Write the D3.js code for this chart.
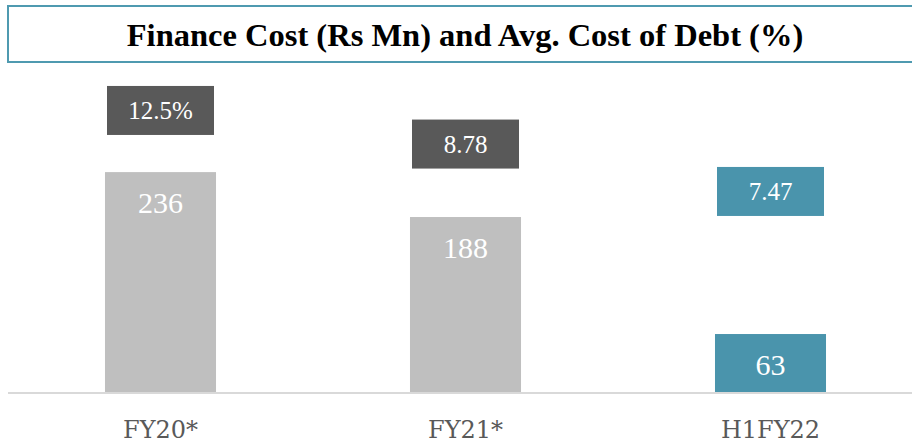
<!DOCTYPE html>
<html>
<head>
<meta charset="utf-8">
<script src="https://cdn.jsdelivr.net/npm/d3@7"></script>
<style>
  body { margin: 0; background: #fff; }
  svg { display: block; font-family: "Liberation Serif", "DejaVu Serif", serif; }
</style>
</head>
<body>
<div id="chart"></div>
<script>
// 데이터
const categories = ["FY20*", "FY21*", "H1FY22"];
const financeCost = [236, 188, 63];
const costOfDebt = [12.5, 8.78, 7.47];
const costLabels = ["12.5%", "8.78", "7.47"];
const titleText = "Finance Cost (Rs Mn) and Avg. Cost of Debt (%)";

const width = 912;
const height = 444;
const baseY = 393;

// 라벨 박스는 원본에서 손으로 옮겨진 위치라 살짝 보정
const labelNudge = [4.6, -16, 12.3];

const barColor = ["#bfbfbf", "#bfbfbf", "#4a94ac"];
const boxColor = ["#595959", "#595959", "#4a94ac"];

const svg = d3
  .select("#chart")
  .append("svg")
  .attr("width", width)
  .attr("height", height);

// 제목 박스
svg
  .append("rect")
  .attr("x", 8)
  .attr("y", 6)
  .attr("width", 930)
  .attr("height", 56)
  .attr("fill", "#fff")
  .attr("stroke", "#4f9ab0")
  .attr("stroke-width", 2);

svg
  .append("text")
  .attr("x", 465)
  .attr("y", 46)
  .attr("text-anchor", "middle")
  .style("font-size", "32.5px")
  .style("font-weight", "bold")
  .style("fill", "#000")
  .text(titleText);

const x = d3
  .scaleBand()
  .domain(categories)
  .range([8, 923])
  .paddingInner(0.636)
  .paddingOuter(0.318);

const y = d3.scaleLinear().domain([0, 250]).range([baseY, baseY - 234]);
const y2 = d3.scaleLinear().domain([0, 14]).range([288, 84]);

const data = categories.map((c, i) => ({
  cat: c,
  cost: financeCost[i],
  debt: costOfDebt[i],
  label: costLabels[i],
  i,
}));

// 막대
svg
  .selectAll(".bar")
  .data(data)
  .enter()
  .append("rect")
  .attr("class", "bar")
  .attr("x", (d) => x(d.cat))
  .attr("width", x.bandwidth())
  .attr("y", (d) => y(d.cost))
  .attr("height", (d) => baseY - y(d.cost))
  .attr("fill", (d) => barColor[d.i]);

svg
  .selectAll(".val")
  .data(data)
  .enter()
  .append("text")
  .attr("class", "val")
  .attr("x", (d) => x(d.cat) + x.bandwidth() / 2)
  .attr("y", (d) => y(d.cost) + 30)
  .attr("dy", "0.35em")
  .attr("text-anchor", "middle")
  .style("font-size", "30px")
  .style("fill", "#fff")
  .text((d) => d.cost);

// 축 선
svg
  .append("line")
  .attr("x1", 8)
  .attr("x2", width)
  .attr("y1", baseY)
  .attr("y2", baseY)
  .attr("stroke", "#d9d9d9")
  .attr("stroke-width", 2);

// 카테고리 라벨
svg
  .append("g")
  .attr("transform", `translate(0,${baseY})`)
  .call(d3.axisBottom(x).tickSize(0).tickPadding(0))
  .call((g) => g.select(".domain").remove())
  .selectAll("text")
  .attr("dy", null)
  .attr("y", 45)
  .style("font-family", "DejaVu Serif, serif")
  .style("font-size", "24px")
  .style("fill", "#595959");

// 평균 조달금리 라벨 박스
const boxW = 107;
const boxH = 49;
const boxes = svg
  .selectAll(".debt")
  .data(data)
  .enter()
  .append("g")
  .attr("class", "debt")
  .attr(
    "transform",
    (d) =>
      `translate(${x(d.cat) + x.bandwidth() / 2},${y2(d.debt) + labelNudge[d.i]})`
  );

boxes
  .append("rect")
  .attr("x", -boxW / 2)
  .attr("y", -boxH / 2)
  .attr("width", boxW)
  .attr("height", boxH)
  .attr("fill", (d) => boxColor[d.i]);

boxes
  .append("text")
  .attr("text-anchor", "middle")
  .attr("dy", "0.35em")
  .style("font-size", "25px")
  .style("fill", "#fff")
  .text((d) => d.label);
</script>
</body>
</html>
